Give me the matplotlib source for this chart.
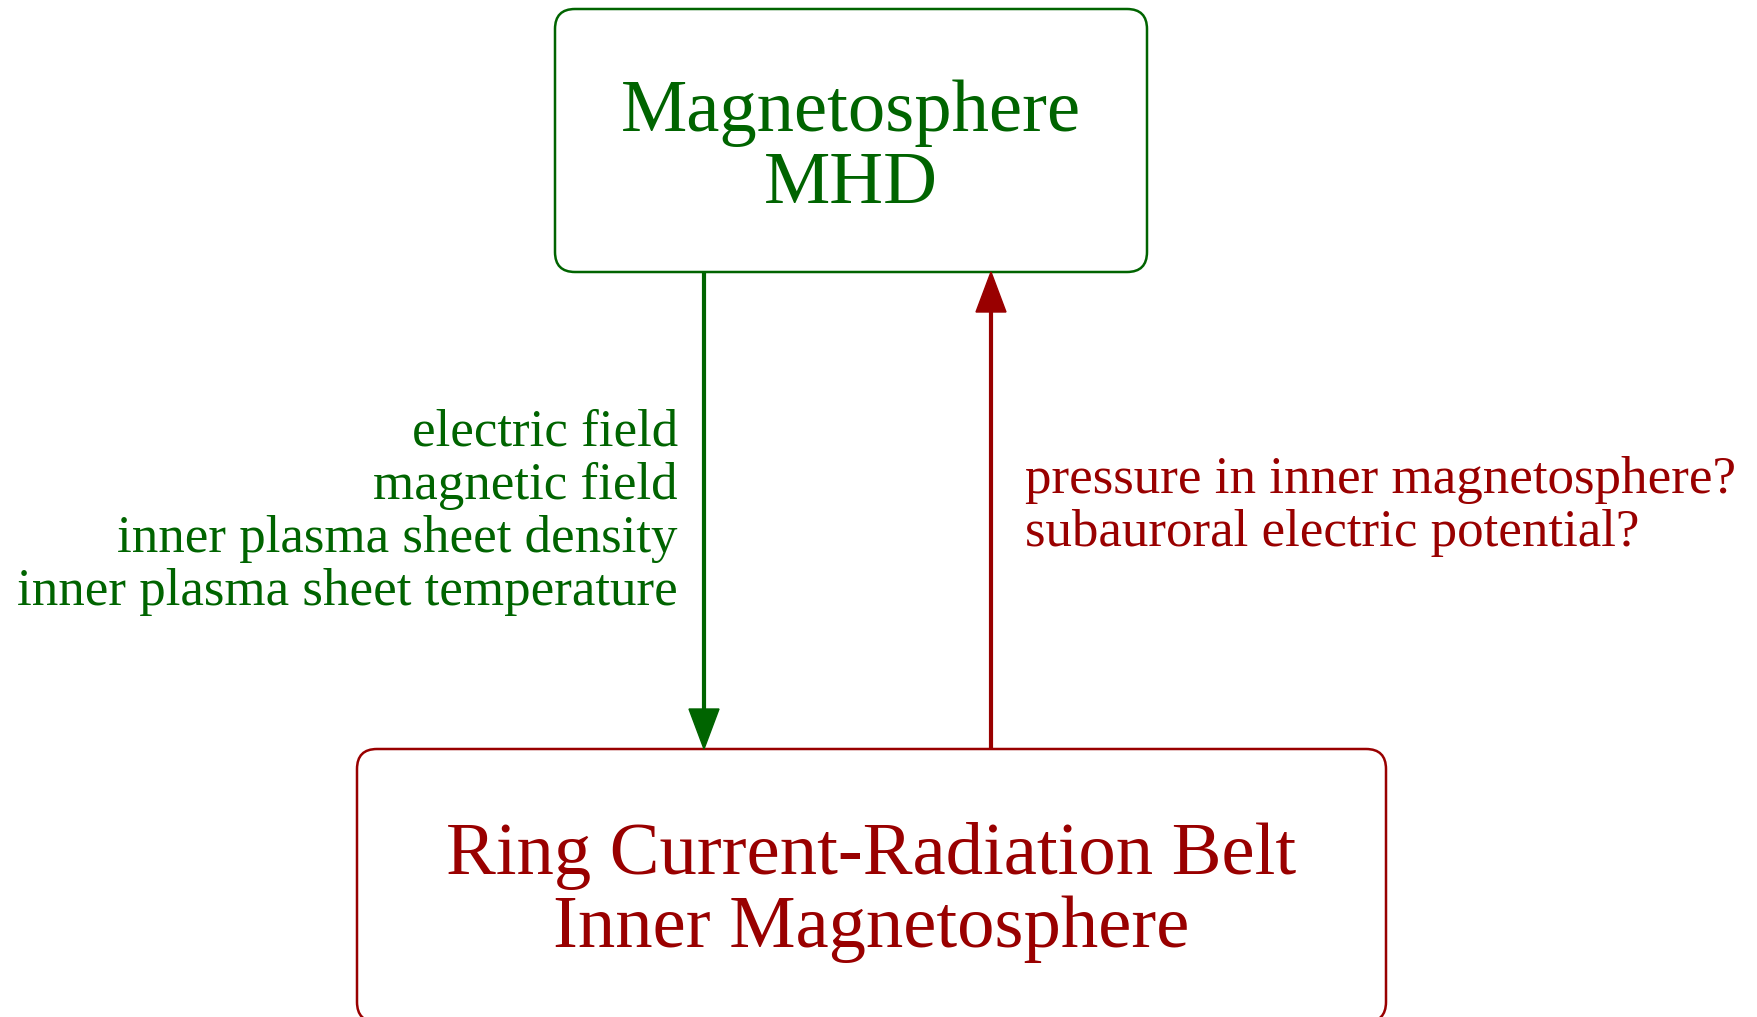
import matplotlib
matplotlib.use("Agg")
import matplotlib.pyplot as plt
from matplotlib.patches import FancyBboxPatch, Polygon

# node texts and edge labels
top_lines = ["Magnetosphere", "MHD"]
bottom_lines = ["Ring Current-Radiation Belt", "Inner Magnetosphere"]
down_labels = ["electric field", "magnetic field",
               "inner plasma sheet density", "inner plasma sheet temperature"]
up_labels = ["pressure in inner magnetosphere?", "subauroral electric potential?"]

green = "#006400"
red = "#990000"
font = "Liberation Serif"

W, H = 1758, 1017
fig = plt.figure(figsize=(W / 100, H / 100), dpi=100)
ax = fig.add_axes([0, 0, 1, 1])
ax.set_xlim(0, W)
ax.set_ylim(H, 0)
ax.axis("off")

# layout in pixels (x0, y0, x1, y1)
top_box = (555, 9, 1147, 272)
bot_box = (357, 749, 1386, 1022)


def draw_box(b, color, lines, baselines):
    x0, y0, x1, y1 = b
    r = 20
    ax.add_patch(FancyBboxPatch((x0 + r, y0 + r), x1 - x0 - 2 * r, y1 - y0 - 2 * r,
                                boxstyle=f"round,pad={r}", fc="white", ec=color, lw=1.8))
    cx = (x0 + x1) / 2
    for s, yb in zip(lines, baselines):
        ax.text(cx, yb, s, color=color, family=font, fontsize=53.7,
                ha="center", va="baseline")


def draw_arrow(x, y_from, y_to, color):
    head = 40
    hw = 15
    d = 1 if y_to > y_from else -1
    ax.plot([x, x], [y_from, y_to - d * head], color=color, lw=3, solid_capstyle="butt")
    ax.add_patch(Polygon([[x - hw, y_to - d * head], [x + hw, y_to - d * head], [x, y_to]],
                         closed=True, fc=color, ec=color, lw=1))


draw_box(top_box, green, top_lines, [131, 203])
draw_box(bot_box, red, bottom_lines, [874, 947])

draw_arrow(704, top_box[3], bot_box[1], green)
draw_arrow(991, bot_box[1], top_box[3], red)

for s, yb in zip(down_labels, [445, 499, 552, 605]):
    ax.text(678, yb, s, color=green, family=font, fontsize=38.2,
            ha="right", va="baseline")
for s, yb in zip(up_labels, [493, 546]):
    ax.text(1025, yb, s, color=red, family=font, fontsize=38.2,
            ha="left", va="baseline")

fig.savefig("out.png", dpi=100, facecolor="white")
